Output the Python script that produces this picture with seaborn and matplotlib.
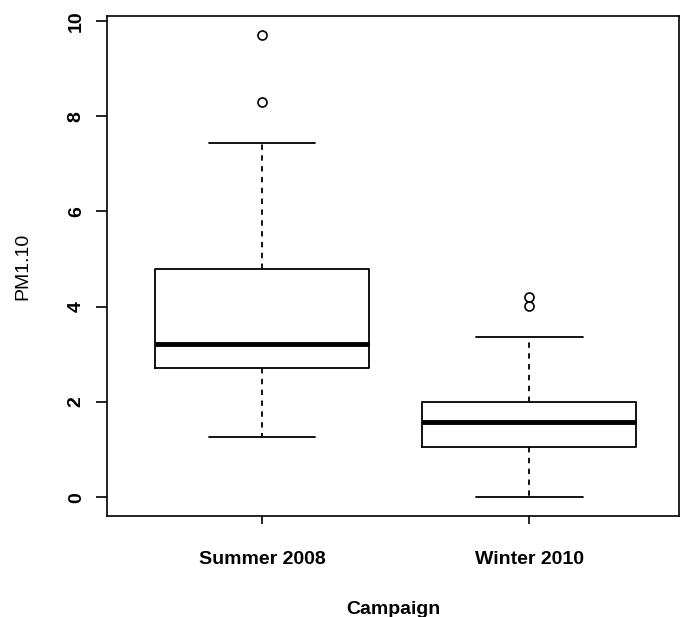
import matplotlib
matplotlib.use("Agg")
import matplotlib.pyplot as plt
import seaborn as sns

categories = ["Summer 2008", "Winter 2010"]
whisker_low = [1.26, 0.0]
q1 = [2.71, 1.06]
median = [3.22, 1.58]
q3 = [4.79, 2.00]
whisker_high = [7.43, 3.37]
outliers = [[8.29, 9.71], [4.02, 4.20]]
yticks = [0, 2, 4, 6, 8, 10]

sns.set_style("white")
plt.rcParams["font.family"] = ["Liberation Sans", "DejaVu Sans"]
plt.rcParams["text.color"] = "black"
plt.rcParams["axes.labelcolor"] = "black"
plt.rcParams["xtick.color"] = "black"
plt.rcParams["ytick.color"] = "black"

fig = plt.figure(figsize=(6.82, 6.17), dpi=100)
ax = fig.add_axes([107/682, 1 - 516/617, (679-107)/682, (516-16)/617])

stats = []
for i, c in enumerate(categories):
    stats.append(dict(label=c, whislo=whisker_low[i], q1=q1[i], med=median[i],
                      q3=q3[i], whishi=whisker_high[i], fliers=outliers[i]))

ax.bxp(stats, positions=[1, 2], widths=0.8, showfliers=True,
       boxprops=dict(color="black", linewidth=1.3),
       medianprops=dict(color="black", linewidth=3.5, solid_capstyle="butt"),
       whiskerprops=dict(color="black", linewidth=1.3, linestyle=(0, (3, 3))),
       capprops=dict(color="black", linewidth=1.3),
       capwidths=0.4,
       flierprops=dict(marker="o", markerfacecolor="none", markeredgecolor="black",
                       markersize=6.5, markeredgewidth=1.2))

ax.set_xlim(0.42, 2.56)
ax.set_ylim(-0.39, 10.1)
ax.set_yticks(yticks)
ax.set_yticklabels([str(v) for v in yticks], rotation=90, va="center",
                   fontsize=14, fontweight="bold", color="black")
ax.set_xticks([1, 2])
ax.set_xticklabels(categories, fontsize=14, fontweight="bold", color="black")
ax.tick_params(axis="y", direction="out", length=8, width=1.2, pad=8, left=True,
               color="black")
ax.tick_params(axis="x", direction="out", length=6, width=1.2, pad=19, bottom=True,
               color="black")
for s in ax.spines.values():
    s.set_color("black")
    s.set_linewidth(1.2)

ax.set_ylabel("PM1.10", fontsize=14, labelpad=26, color="black")
ax.set_xlabel("Campaign", fontsize=14, fontweight="bold", labelpad=24, color="black")

fig.savefig("out.png", dpi=100)
